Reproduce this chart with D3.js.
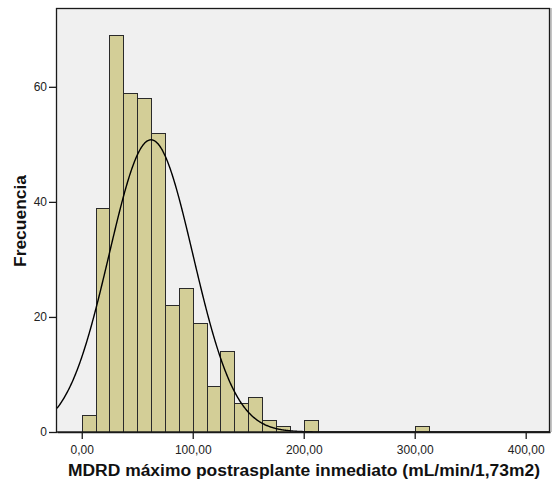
<!DOCTYPE html>
<html>
<head>
<meta charset="utf-8">
<script src="https://cdn.jsdelivr.net/npm/d3@7"></script>
<style>
  html, body { margin: 0; padding: 0; background: #fff; }
  svg { display: block; font-family: "Liberation Sans", Arial, sans-serif; }
</style>
</head>
<body>
<svg id="chart" width="552" height="481"></svg>
<script>
// Histogram bins: lower edge of each bin (width 12.5) and its frequency
const binStarts = [0, 12.5, 25, 37.5, 50, 62.5, 75, 87.5, 100, 112.5, 125, 137.5, 150, 162.5, 175, 187.5, 200, 300];
const binCounts = [3, 39, 69, 59, 58, 52, 22, 25, 19, 8, 14, 5, 6, 2, 1, 0, 2, 1];
const binWidth = 12.5;

// Axis ticks
const xTicks = [0, 100, 200, 300, 400];
const yTicks = [0, 20, 40, 60];

// Normal fit parameters
const mean = 62.4;
const sd = 37.8;

const xLabel = "MDRD máximo postrasplante inmediato (mL/min/1,73m2)";
const yLabel = "Frecuencia";

const plot = { left: 57, right: 550, top: 8, bottom: 432 };

const svg = d3.select("#chart");

const x = d3.scaleLinear().domain([-22.3, 421.9]).range([plot.left, plot.right]);
const y = d3.scaleLinear().domain([0, 73.7]).range([plot.bottom, plot.top]);

const fmt = v => d3.format(".2f")(v).replace(".", ",");

// plot background
svg.append("rect")
  .attr("x", plot.left).attr("y", plot.top)
  .attr("width", plot.right - plot.left).attr("height", plot.bottom - plot.top)
  .attr("fill", "#f0f0f0");

svg.append("clipPath").attr("id", "clip")
  .append("rect")
  .attr("x", plot.left).attr("y", plot.top)
  .attr("width", plot.right - plot.left).attr("height", plot.bottom - plot.top);

// bars
const bins = binStarts.map((s, i) => ({ x0: s, x1: s + binWidth, n: binCounts[i] })).filter(d => d.n > 0);
svg.append("g")
  .selectAll("rect")
  .data(bins)
  .join("rect")
  .attr("x", d => Math.round(x(d.x0)) + 0.5)
  .attr("width", d => Math.round(x(d.x1)) - Math.round(x(d.x0)))
  .attr("y", d => Math.round(y(d.n)) + 0.5)
  .attr("height", d => Math.round(y(0)) - Math.round(y(d.n)))
  .attr("fill", "#d3ce97")
  .attr("stroke", "#2a2a2a")
  .attr("stroke-width", 1);

// normal curve scaled to counts
const total = d3.sum(binCounts);
const scaleK = total * binWidth / (sd * Math.sqrt(2 * Math.PI));
const curveXs = d3.range(-22.3, 421.9, 0.5);
const line = d3.line()
  .x(v => x(v))
  .y(v => y(scaleK * Math.exp(-0.5 * Math.pow((v - mean) / sd, 2))))
  .curve(d3.curveLinear);
svg.append("path")
  .datum(curveXs)
  .attr("clip-path", "url(#clip)")
  .attr("d", line)
  .attr("fill", "none")
  .attr("stroke", "#000")
  .attr("stroke-width", 1.4);

// frame
svg.append("rect")
  .attr("x", plot.left - 0.5).attr("y", plot.top + 0.5)
  .attr("width", plot.right - plot.left).attr("height", plot.bottom - plot.top - 0.5)
  .attr("fill", "none")
  .attr("stroke", "#1a1a1a")
  .attr("stroke-width", 1.3);
svg.append("line")
  .attr("x1", plot.right + 1).attr("x2", plot.right + 1)
  .attr("y1", plot.top).attr("y2", plot.bottom)
  .attr("stroke", "#888").attr("stroke-width", 1);

// x axis
const xAxis = d3.axisBottom(x).tickValues(xTicks).tickSize(7).tickSizeOuter(0).tickPadding(6).tickFormat(fmt);
const gx = svg.append("g").attr("transform", `translate(0,${plot.bottom})`).call(xAxis);
gx.select(".domain").attr("stroke", "#1a1a1a").attr("stroke-width", 1.3);
gx.selectAll(".tick line").attr("stroke", "#1a1a1a").attr("stroke-width", 1.3);
gx.selectAll(".tick text").attr("fill", "#222").attr("font-size", 12).attr("font-family", "Liberation Sans, Arial, sans-serif");

// y axis
const yAxis = d3.axisLeft(y).tickValues(yTicks).tickSize(8).tickSizeOuter(0).tickPadding(2).tickFormat(d3.format("d"));
const gy = svg.append("g").attr("transform", `translate(${plot.left},0)`).call(yAxis);
gy.select(".domain").remove();
gy.selectAll(".tick line").attr("stroke", "#1a1a1a").attr("stroke-width", 1.3);
gy.selectAll(".tick text").attr("fill", "#222").attr("font-size", 12).attr("font-family", "Liberation Sans, Arial, sans-serif");

// axis titles
svg.append("text")
  .attr("x", 304).attr("y", 476)
  .attr("text-anchor", "middle")
  .attr("font-size", 16).attr("font-weight", "bold").attr("fill", "#111")
  .attr("textLength", 472).attr("lengthAdjust", "spacingAndGlyphs")
  .text(xLabel);

svg.append("text")
  .attr("transform", "translate(25.5,221) rotate(-90)")
  .attr("text-anchor", "middle")
  .attr("font-size", 16.5).attr("font-weight", "bold").attr("fill", "#111")
  .attr("textLength", 92).attr("lengthAdjust", "spacingAndGlyphs")
  .text(yLabel);
</script>
</body>
</html>
